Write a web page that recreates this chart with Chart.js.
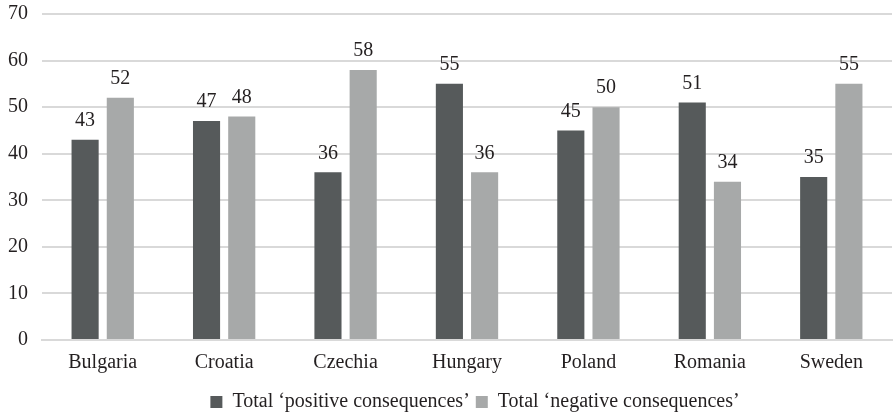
<!DOCTYPE html>
<html>
<head>
<meta charset="utf-8">
<script src="https://cdn.jsdelivr.net/npm/chart.js@4"></script>
<style>
  html, body { margin: 0; padding: 0; background: #fff; }
  #wrap { width: 894px; height: 417px; }
</style>
</head>
<body>
<div id="wrap"><canvas id="chart"></canvas></div>
<script>
const countries = ['Bulgaria', 'Croatia', 'Czechia', 'Hungary', 'Poland', 'Romania', 'Sweden'];
const positive = [43, 47, 36, 55, 45, 51, 35];
const negative = [52, 48, 58, 36, 50, 34, 55];
const yTicks = [0, 10, 20, 30, 40, 50, 60, 70];

const FONT = "'Liberation Serif', 'DejaVu Serif', serif";
const TEXT = '#231f20';
const SIZE = 20;

// values above each bar
const valueLabels = {
    id: 'valueLabels',
    afterDatasetsDraw(chart){
        const ctx = chart.ctx;
        ctx.save();
        ctx.font = SIZE + 'px ' + FONT;
        ctx.fillStyle = TEXT;
        ctx.textAlign = 'center';
        ctx.textBaseline = 'bottom';
        chart.data.datasets.forEach((ds, i) => {
            chart.getDatasetMeta(i).data.forEach((bar, j) => {
                ctx.fillText(ds.data[j], bar.x, bar.y - 9);
            });
        });
        ctx.restore();
    }
};

// legend sits a bit right of the page centre in the original
const legendShift = {
    id: 'legendShift',
    afterLayout(chart){
        chart.legend.left += 32;
        chart.legend.right += 32;
    }
};

new Chart(document.getElementById('chart').getContext('2d'), {
    type: 'bar',
    data: {
        labels: countries,
        datasets: [{
            label: 'Total \u2018positive consequences\u2019',
            data: positive,
            backgroundColor: '#565a5b'
        }, {
            label: 'Total \u2018negative consequences\u2019',
            data: negative,
            backgroundColor: '#a7a9a9'
        }]
    },
    options: {
        responsive: true,
        maintainAspectRatio: false,
        animation: false,
        layout: { padding: { left: -6, right: 2, top: 14, bottom: -5 } },
        datasets: { bar: { categoryPercentage: 0.58, barPercentage: 0.77 } },
        plugins: {
            legend: {
                position: 'bottom',
                labels: {
                    font: { family: FONT, size: SIZE },
                    color: TEXT,
                    boxWidth: 12,
                    boxHeight: 12,
                    padding: 6
                }
            },
            tooltip: { enabled: false }
        },
        scales: {
            x: {
                grid: { display: false },
                border: { color: '#d9d9d9', width: 2 },
                ticks: { font: { family: FONT, size: SIZE }, color: TEXT, padding: 3 },
                afterFit: axis => { axis.height = 46; }
            },
            y: {
                min: 0,
                max: 70,
                afterBuildTicks: axis => { axis.ticks = yTicks.map(v => ({ value: v })); },
                afterFit: axis => { axis.paddingTop = 0; },
                grid: { color: '#d9d9d9', lineWidth: 2, drawTicks: false },
                border: { display: false },
                ticks: { font: { family: FONT, size: SIZE }, color: TEXT, padding: 14 }
            }
        }
    },
    plugins: [valueLabels, legendShift]
});
</script>
</body>
</html>
